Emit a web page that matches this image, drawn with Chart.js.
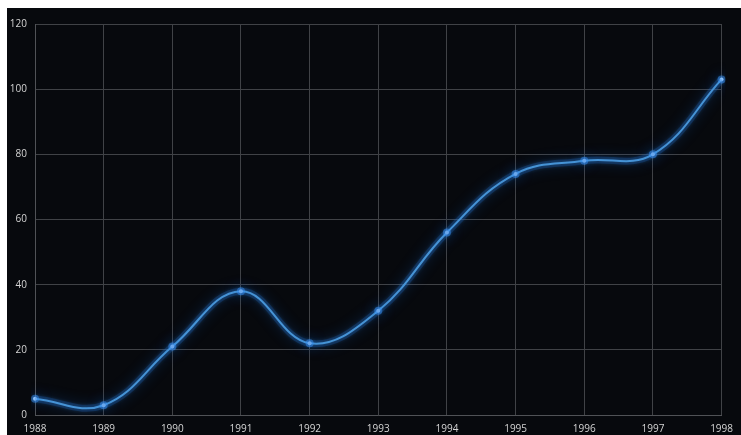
<!DOCTYPE html>
<html>
<head>
<meta charset="utf-8">
<script src="https://cdn.jsdelivr.net/npm/chart.js@4"></script>
<style>
  html, body { margin: 0; padding: 0; background: #ffffff; }
  #wrap { position: absolute; left: 7px; top: 8px; width: 734px; height: 427px; background: #07090d; }
</style>
</head>
<body>
<div id="wrap"><canvas id="chart"></canvas></div>
<script>
// data
const years = ["1988", "1989", "1990", "1991", "1992", "1993", "1994", "1995", "1996", "1997", "1998"];
const values = [5, 3, 21, 38, 22, 32, 56, 74, 78, 80, 103];
const yTicks = [0, 20, 40, 60, 80, 100, 120];

// glow behind the line
const glow = {
  id: "glow",
  beforeDatasetDraw(chart, args) {
    const ctx = chart.ctx;
    ctx.save();
    ctx.shadowColor = args.index === 0 ? "rgba(20,100,200,0.8)" : "rgba(80,170,255,0.7)";
    ctx.shadowBlur = args.index === 0 ? 14 : 5;
  },
  afterDatasetDraw(chart) {
    chart.ctx.restore();
  }
};

new Chart(document.getElementById("chart"), {
  type: "line",
  data: {
    labels: years,
    datasets: [
      {
        data: values,
        borderColor: "rgba(25,90,170,0.3)",
        borderWidth: 7,
        tension: 0.4,
        pointRadius: 4,
        pointBackgroundColor: "rgba(60,150,255,0.45)",
        pointBorderWidth: 0
      },
      {
        data: values,
        borderColor: "#62b6ee",
        borderWidth: 2,
        tension: 0.4,
        pointRadius: 2,
        pointBackgroundColor: "#e0f4ff",
        pointBorderWidth: 0
      }
    ]
  },
  options: {
    responsive: true,
    maintainAspectRatio: false,
    animation: false,
    layout: { padding: { top: 16, right: 12, left: 0, bottom: 0 } },
    plugins: { legend: { display: false }, tooltip: { enabled: false } },
    scales: {
      x: {
        grid: { color: "#404246", drawTicks: false },
        border: { color: "#505256" },
        ticks: { color: "#d4d4d4", font: { family: "Open Sans", size: 10 }, padding: 8, maxRotation: 0 },
        afterFit(scale) { scale.height = 20; }
      },
      y: {
        min: 0,
        max: 120,
        grid: { color: "#404246", drawTicks: false },
        border: { color: "#505256" },
        ticks: {
          color: "#d4d4d4",
          font: { family: "Open Sans", size: 10 },
          padding: 8,
          stepSize: 20,
          callback: (v) => (yTicks.includes(v) ? v : "")
        },
        afterFit(scale) { scale.width = 28; }
      }
    }
  },
  plugins: [glow]
});
</script>
</body>
</html>
